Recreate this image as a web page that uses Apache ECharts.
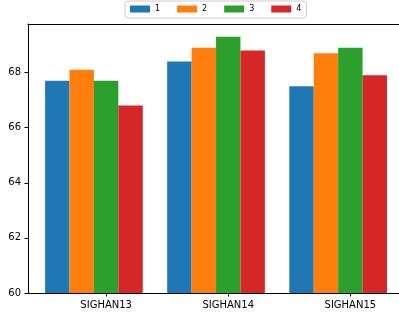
<!DOCTYPE html>
<html>
<head>
<meta charset="utf-8">
<script src="https://cdn.jsdelivr.net/npm/echarts@6/dist/echarts.min.js"></script>
<style>html,body{margin:0;padding:0;background:#fff}#c{width:399px;height:314px}</style>
</head>
<body>
<div id="c"></div>
<script>
const categories = ['SIGHAN13', 'SIGHAN14', 'SIGHAN15'];
const seriesNames = ['1', '2', '3', '4'];
const values1 = [67.7, 68.4, 67.5];
const values2 = [68.1, 68.9, 68.7];
const values3 = [67.7, 69.3, 68.9];
const values4 = [66.8, 68.8, 67.9];
const yTicks = [60, 62, 64, 66, 68];

const allValues = [values1, values2, values3, values4];
const colors = ['#1f77b4', '#ff7f0e', '#2ca02c', '#d62728'];
const barW = 0.2;
const offsets = [-0.4, -0.2, 0, 0.2];

const chart = echarts.init(document.getElementById('c'), null, {renderer: 'canvas'});
const font = 'DejaVu Sans';
const unitPx = 122.1;
const xMin = -0.64, xMax = 2.44;

chart.setOption({
  animation: false,
  backgroundColor: '#fff',
  grid: {
    left: 28, top: 24, bottom: 21,
    width: (xMax - xMin) * unitPx,
    outerBoundsMode: 'none',
    containLabel: false,
    show: false
  },
  legend: {
    data: seriesNames,
    left: 125, top: 1,
    itemWidth: 20, itemHeight: 7, itemGap: 17,
    padding: [4, 5, 5, 5],
    borderColor: '#cccccc', borderWidth: 1, borderRadius: 3,
    icon: 'rect',
    textStyle: {fontFamily: font, fontSize: 8, color: '#000'}
  },
  xAxis: [{
    type: 'value', min: xMin, max: xMax,
    splitLine: {show: false},
    axisLine: {onZero: false, lineStyle: {color: '#000', width: 1}},
    axisTick: {show: true, length: 3.5, customValues: categories.map((c, i) => i), lineStyle: {color: '#000'}},
    axisLabel: {
      customValues: categories.map((c, i) => i),
      formatter: v => categories[Math.round(v)] || '',
      fontFamily: font, fontSize: 10, color: '#000', margin: 7
    }
  }, {
    type: 'value', position: 'top', min: xMin, max: xMax,
    splitLine: {show: false},
    axisLine: {show: true, onZero: false, lineStyle: {color: '#000', width: 1}},
    axisTick: {show: false},
    axisLabel: {show: false}
  }],
  yAxis: {
    type: 'value', min: 60, max: 69.76,
    splitLine: {show: false},
    axisLine: {show: true, onZero: false, lineStyle: {color: '#000', width: 1}},
    axisTick: {show: true, length: 3.5, customValues: yTicks, lineStyle: {color: '#000'}},
    axisLabel: {customValues: yTicks, fontFamily: font, fontSize: 10, color: '#000', margin: 7}
  },
  series: seriesNames.map((name, s) => ({
    name: name,
    type: 'bar',
    xAxisIndex: 0,
    barWidth: barW * unitPx,
    barGap: '-100%',
    itemStyle: {color: colors[s]},
    data: allValues[s].map((v, i) => [i + offsets[s], v])
  }))
});
</script>
</body>
</html>
